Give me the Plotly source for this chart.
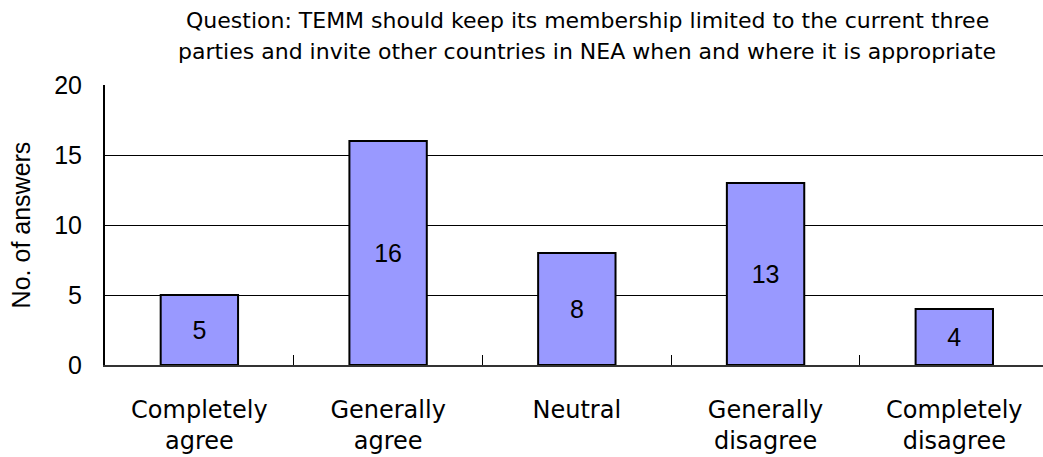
import plotly.graph_objects as go

# Survey answers
categories = ["Completely<br>agree", "Generally<br>agree", "Neutral",
              "Generally<br>disagree", "Completely<br>disagree"]
answers = [5, 16, 8, 13, 4]
y_ticks = [0, 5, 10, 15, 20]

title_lines = [
    "Question: TEMM should keep its membership limited to the current three",
    "parties and invite other countries in NEA when and where it is appropriate",
]

label_font = "DejaVu Sans, Noto Sans, sans-serif"
number_font = "Liberation Sans, Arial, sans-serif"

fig = go.Figure(
    go.Bar(
        x=categories,
        y=answers,
        text=[str(v) for v in answers],
        textposition="inside",
        insidetextanchor="middle",
        textfont=dict(family=number_font, size=25, color="black"),
        marker=dict(color="#9999FF", line=dict(color="black", width=2)),
        width=0.41,
    )
)

# Two-line question above the plot
for i, line in enumerate(title_lines):
    fig.add_annotation(
        text=line,
        xref="paper", yref="paper",
        x=(587 - 105) / 938, y=1 + (64 - 31 * i) / 280,
        xanchor="center", yanchor="middle",
        showarrow=False,
        font=dict(family=label_font, size=22, color="black"),
    )

fig.update_layout(
    width=1043,
    height=457,
    margin=dict(l=105, r=0, t=85, b=92),
    paper_bgcolor="white",
    plot_bgcolor="white",
    showlegend=False,
    font=dict(family=label_font, color="black"),
    uniformtext=dict(mode="show", minsize=10),
)

fig.update_xaxes(
    type="category",
    range=[-0.5, 4.47],
    tickson="boundaries",
    ticks="inside",
    ticklen=10,
    tickwidth=1,
    tickcolor="black",
    showline=True,
    linecolor="#333333",
    linewidth=2,
    showgrid=False,
    ticklabelstandoff=22,
    tickfont=dict(family=label_font, size=24, color="black"),
)

fig.update_yaxes(
    range=[0, 20],
    tickvals=y_ticks,
    ticks="",
    showline=True,
    linecolor="black",
    linewidth=2,
    showgrid=True,
    gridcolor="black",
    gridwidth=1,
    zeroline=False,
    ticklabelstandoff=16,
    tickfont=dict(family=number_font, size=25, color="black"),
    title=dict(text="No. of answers",
               font=dict(family=number_font, size=25, color="black"),
               standoff=16),
)

fig.write_html("out.html")
